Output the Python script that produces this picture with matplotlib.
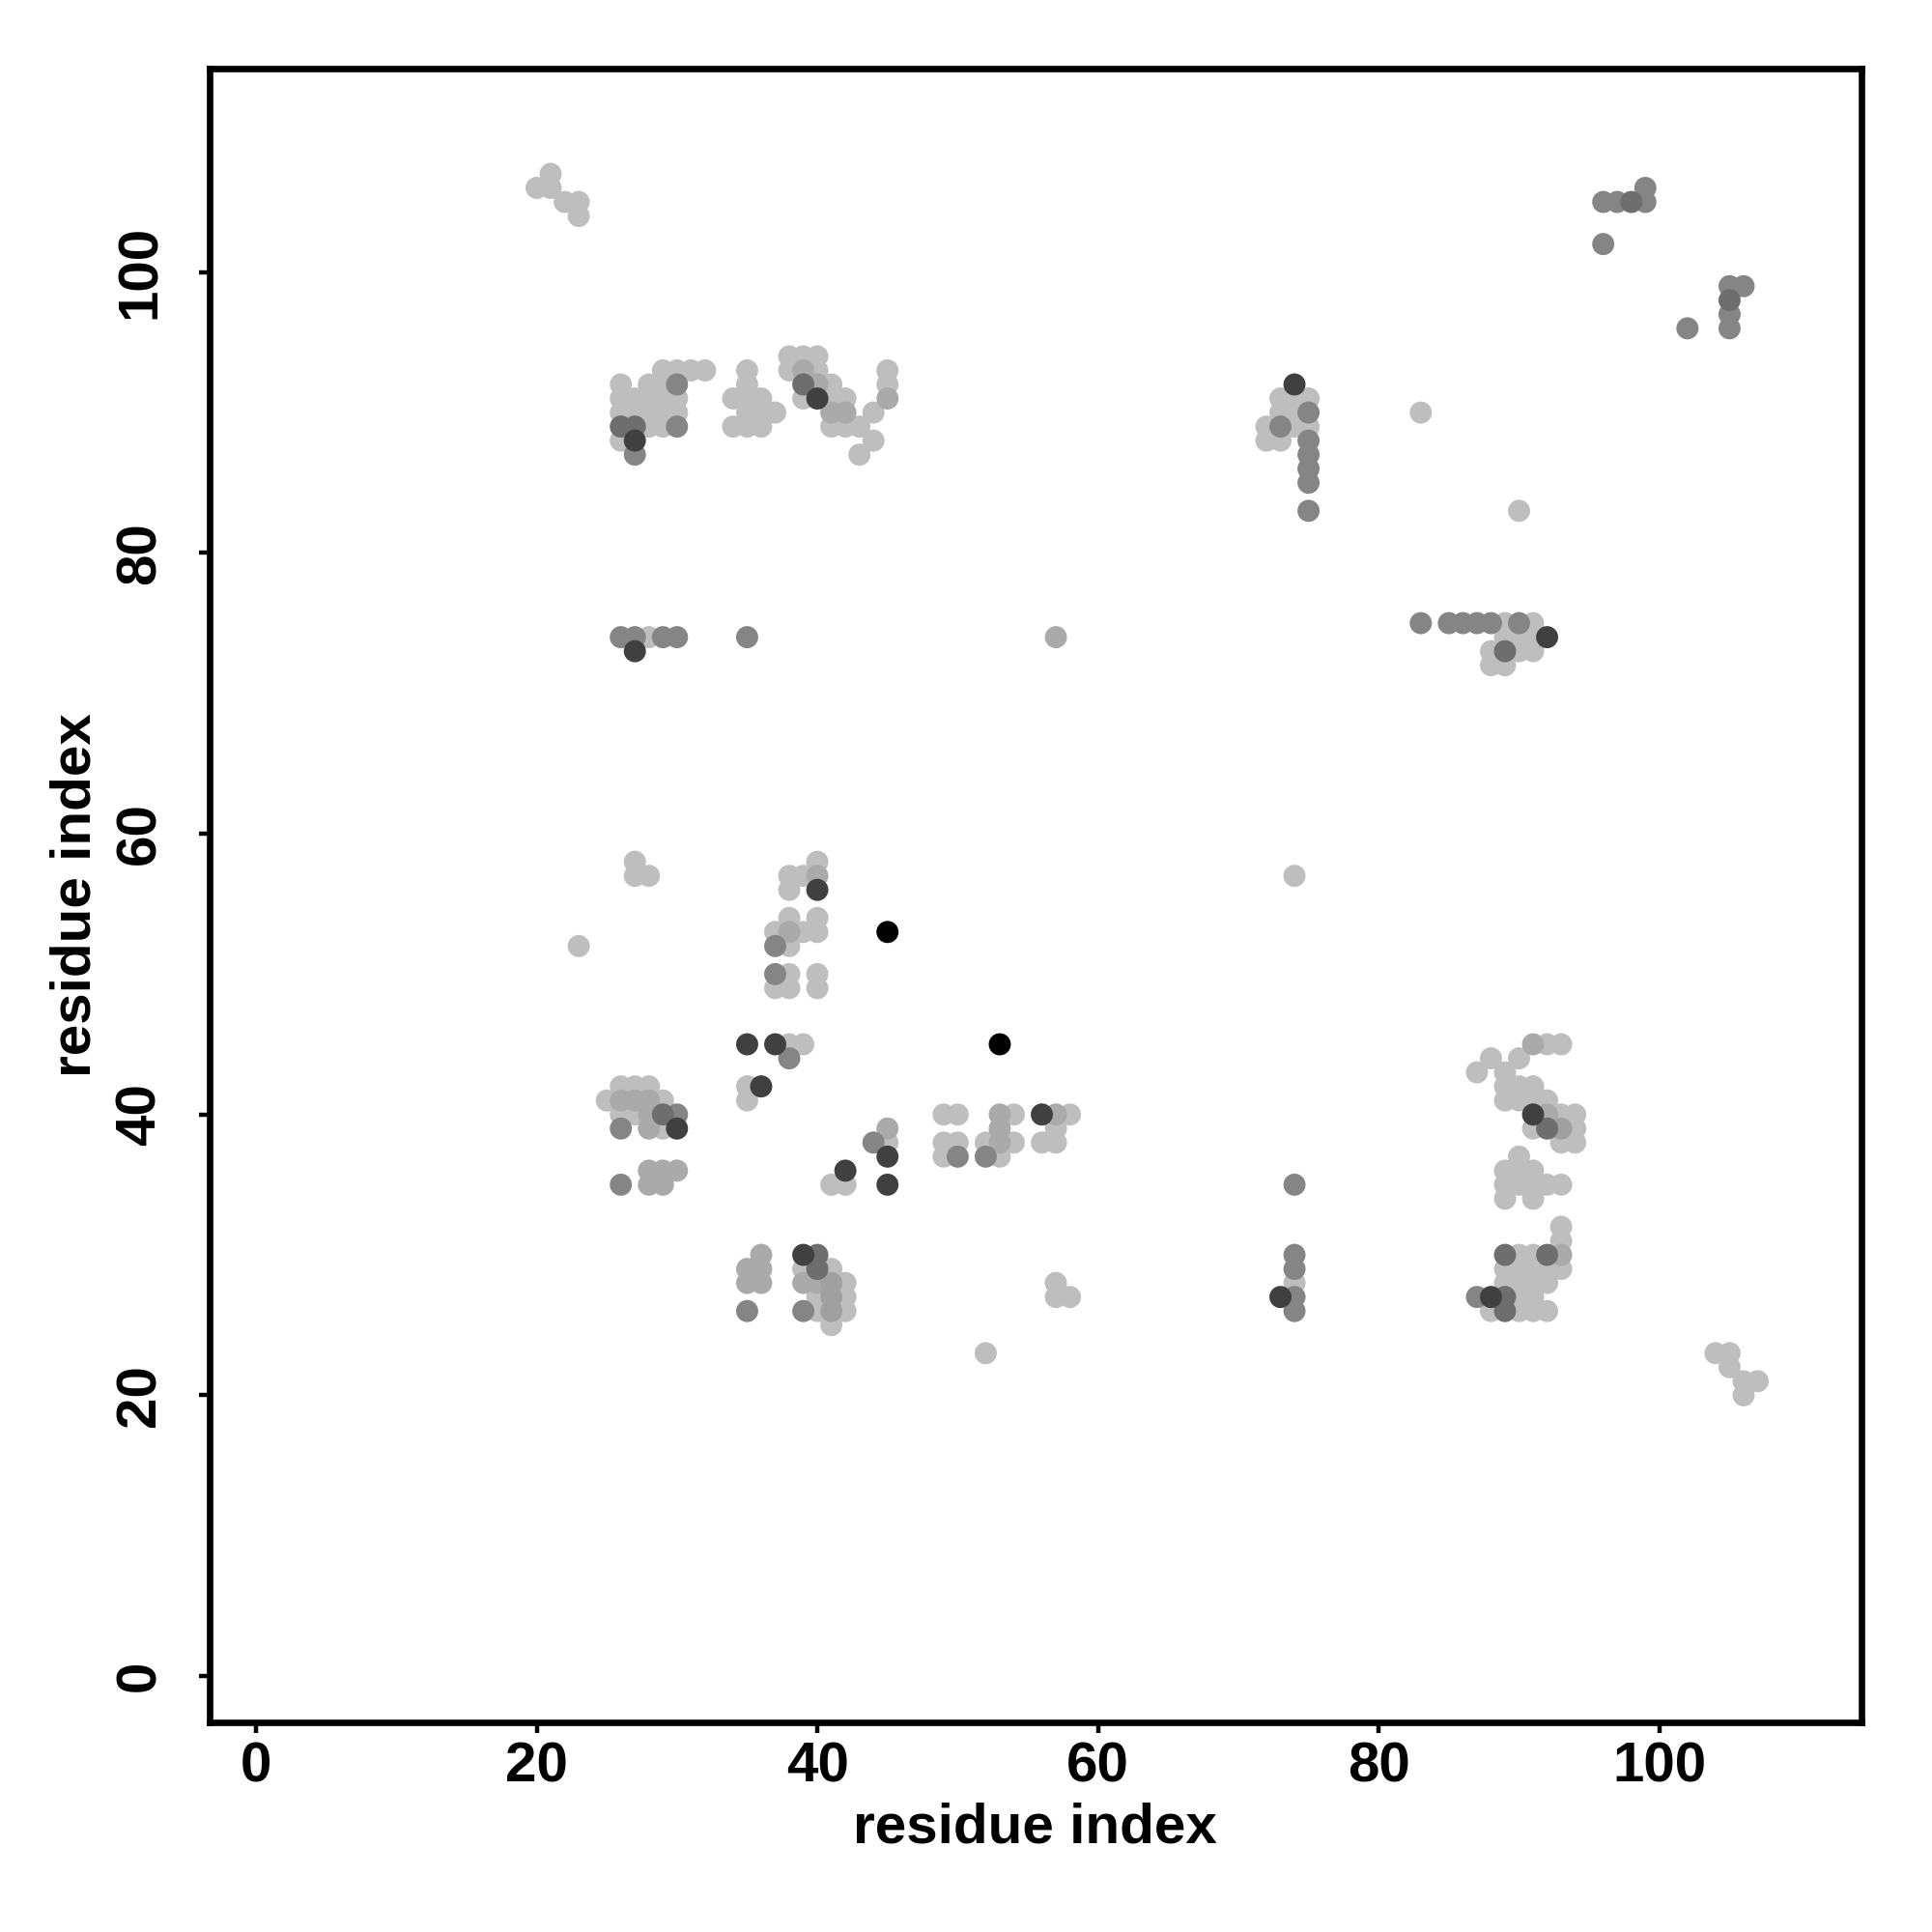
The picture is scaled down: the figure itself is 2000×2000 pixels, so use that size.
import matplotlib
matplotlib.use("Agg")
import matplotlib.pyplot as plt
import numpy as np

plt.rcParams["font.family"] = ["Liberation Sans", "DejaVu Sans"]

# grey code -> colour (L light ... K black)
SHADES = {"L": "#bebebe", "l": "#aaaaaa", "a": "#a0a0a0", "M": "#858585",
          "m": "#6e6e6e", "D": "#404040", "K": "#000000"}

# contacts: (residue i, residue j, grey code), one list per block
top_left = [(20, 106, "L"), (21, 107, "L"), (21, 106, "L"), (22, 105, "L"),
            (23, 105, "L"), (23, 104, "L")]
top_right = [(96, 105, "M"), (97, 105, "M"), (98, 105, "m"), (99, 105, "M"),
             (99, 106, "M"), (96, 102, "M"), (102, 96, "M"), (105, 99, "M"),
             (106, 99, "M"), (105, 98, "m"), (105, 97, "M"), (105, 96, "M")]
block_90 = [(38, 94, "L"), (39, 94, "L"), (40, 94, "L"),
            (29, 93, "L"), (30, 93, "L"), (31, 93, "L"), (32, 93, "L"), (35, 93, "L"),
            (38, 93, "L"), (39, 93, "l"), (40, 93, "L"), (45, 93, "L"),
            (26, 92, "L"), (28, 92, "L"), (29, 92, "L"), (30, 92, "M"), (35, 92, "L"),
            (39, 92, "m"), (40, 92, "l"), (41, 92, "L"), (45, 92, "L"),
            (26, 91, "L"), (27, 91, "L"), (28, 91, "L"), (29, 91, "L"), (30, 91, "L"),
            (34, 91, "L"), (35, 91, "L"), (36, 91, "L"), (39, 91, "L"), (40, 91, "D"),
            (41, 91, "L"), (42, 91, "L"), (45, 91, "l"),
            (26, 90, "L"), (27, 90, "L"), (28, 90, "L"), (29, 90, "L"), (30, 90, "L"),
            (35, 90, "L"), (36, 90, "L"), (37, 90, "L"), (41, 90, "l"), (42, 90, "l"),
            (44, 90, "L"),
            (26, 89, "m"), (27, 89, "m"), (28, 89, "L"), (29, 89, "L"), (30, 89, "M"),
            (34, 89, "L"), (35, 89, "L"), (36, 89, "L"), (41, 89, "L"), (42, 89, "L"),
            (43, 89, "L"),
            (26, 88, "L"), (27, 88, "D"), (44, 88, "L"), (27, 87, "M"), (43, 87, "L")]
block_74_90 = [(74, 92, "D"), (73, 91, "L"), (74, 91, "L"), (75, 91, "L"),
               (73, 90, "L"), (74, 90, "L"), (75, 90, "M"),
               (72, 89, "L"), (73, 89, "M"), (74, 89, "L"), (75, 89, "L"),
               (72, 88, "L"), (73, 88, "L"), (75, 88, "M"), (75, 87, "M"),
               (75, 86, "M"), (75, 85, "M"), (75, 83, "M"), (83, 90, "L"), (90, 83, "L")]
row_74 = [(26, 74, "M"), (27, 74, "M"), (28, 74, "L"), (29, 74, "M"), (30, 74, "M"),
          (27, 73, "D"), (35, 74, "M"), (57, 74, "l"),
          (83, 75, "M"), (85, 75, "M"), (86, 75, "M"), (87, 75, "M"), (88, 75, "M"),
          (89, 75, "L"), (90, 75, "M"), (91, 75, "L"),
          (89, 74, "L"), (90, 74, "L"), (91, 74, "L"), (92, 74, "D"),
          (88, 73, "L"), (89, 73, "m"), (90, 73, "L"), (91, 73, "L"),
          (88, 72, "L"), (89, 72, "L")]
block_53 = [(27, 58, "L"), (27, 57, "L"), (28, 57, "L"), (23, 52, "L"),
            (40, 58, "L"), (38, 57, "L"), (39, 57, "L"), (40, 57, "l"),
            (38, 56, "L"), (40, 56, "D"), (38, 54, "L"), (40, 54, "L"),
            (37, 53, "L"), (38, 53, "l"), (39, 53, "L"), (40, 53, "L"),
            (37, 52, "M"), (38, 52, "L"), (37, 50, "M"), (38, 50, "L"), (40, 50, "L"),
            (37, 49, "L"), (38, 49, "L"), (40, 49, "L"), (45, 53, "K"), (74, 57, "L")]
block_40_left = [(35, 45, "D"), (37, 45, "D"), (38, 45, "L"), (39, 45, "L"),
                 (53, 45, "K"), (38, 44, "M"), (35, 42, "L"), (36, 42, "D"), (35, 41, "L"),
                 (26, 42, "L"), (27, 42, "L"), (28, 42, "L"),
                 (25, 41, "L"), (26, 41, "l"), (27, 41, "l"), (28, 41, "l"), (29, 41, "L"),
                 (26, 40, "L"), (27, 40, "L"), (28, 40, "l"), (29, 40, "m"), (30, 40, "M"),
                 (26, 39, "M"), (28, 39, "l"), (29, 39, "L"), (30, 39, "D"),
                 (28, 36, "l"), (29, 36, "l"), (30, 36, "l"),
                 (26, 35, "M"), (28, 35, "l"), (29, 35, "l"),
                 (45, 39, "l"), (44, 38, "M"), (45, 38, "L"), (45, 37, "D"),
                 (42, 36, "D"), (41, 35, "L"), (42, 35, "L"), (45, 35, "D")]
block_40_mid = [(49, 40, "L"), (50, 40, "L"), (53, 40, "l"), (54, 40, "L"),
                (56, 40, "D"), (57, 40, "l"), (58, 40, "L"), (53, 39, "l"), (57, 39, "L"),
                (49, 38, "L"), (50, 38, "L"), (52, 38, "L"), (53, 38, "l"), (54, 38, "L"),
                (56, 38, "L"), (57, 38, "L"),
                (49, 37, "L"), (50, 37, "M"), (52, 37, "M"), (53, 37, "L")]
block_40_right = [(74, 35, "M"),
                  (91, 45, "l"), (92, 45, "L"), (93, 45, "L"), (88, 44, "L"), (90, 44, "L"),
                  (87, 43, "L"), (89, 43, "L"), (89, 42, "L"), (90, 42, "L"), (91, 42, "L"),
                  (89, 41, "L"), (90, 41, "L"), (91, 41, "L"), (92, 41, "L"),
                  (91, 40, "D"), (92, 40, "l"), (93, 40, "L"), (94, 40, "L"),
                  (91, 39, "L"), (92, 39, "m"), (93, 39, "a"), (94, 39, "L"),
                  (93, 38, "L"), (94, 38, "L"), (90, 37, "L"),
                  (89, 36, "L"), (90, 36, "L"), (91, 36, "L"),
                  (89, 35, "L"), (90, 35, "L"), (91, 35, "L"), (92, 35, "L"), (93, 35, "L"),
                  (89, 34, "L"), (91, 34, "L"), (93, 32, "L")]
block_28_left = [(36, 30, "l"), (39, 30, "D"), (40, 30, "m"),
                 (35, 29, "l"), (36, 29, "l"), (39, 29, "L"), (40, 29, "m"), (41, 29, "L"),
                 (35, 28, "l"), (36, 28, "l"), (39, 28, "l"), (40, 28, "l"), (41, 28, "a"),
                 (42, 28, "L"), (40, 27, "L"), (41, 27, "a"), (42, 27, "L"),
                 (35, 26, "M"), (39, 26, "M"), (40, 26, "L"), (41, 26, "a"), (42, 26, "L"),
                 (41, 25, "L"), (57, 28, "L"), (57, 27, "L"), (58, 27, "L"), (52, 23, "L")]
block_28_right = [(74, 30, "M"), (74, 29, "M"), (74, 28, "L"), (74, 27, "M"),
                  (74, 26, "M"), (73, 27, "D"), (93, 31, "L"),
                  (89, 30, "m"), (90, 30, "L"), (91, 30, "L"), (92, 30, "m"), (93, 30, "l"),
                  (89, 29, "L"), (90, 29, "L"), (91, 29, "L"), (92, 29, "L"), (93, 29, "L"),
                  (89, 28, "L"), (90, 28, "L"), (91, 28, "L"), (92, 28, "L"),
                  (87, 27, "M"), (88, 27, "D"), (89, 27, "m"), (90, 27, "L"), (91, 27, "L"),
                  (88, 26, "L"), (89, 26, "m"), (90, 26, "L"), (91, 26, "L"), (92, 26, "L")]
bottom_right = [(104, 23, "L"), (105, 23, "L"), (105, 22, "L"), (106, 21, "L"),
                (107, 21, "L"), (106, 20, "L")]

contacts = (top_left + top_right + block_90 + block_74_90 + row_74 + block_53
            + block_40_left + block_40_mid + block_40_right + block_28_left
            + block_28_right + bottom_right)
# light first so darker dots end up on top
contacts.sort(key=lambda c: -int(SHADES[c[2]][1:3], 16))
xs = [c[0] for c in contacts]
ys = [c[1] for c in contacts]
cs = [SHADES[c[2]] for c in contacts]

fig = plt.figure(figsize=(10, 10), dpi=200)
ax = fig.add_axes([0.1085, 0.1085, 0.855, 0.856])
ax.scatter(xs, ys, c=cs, s=68, linewidths=0, zorder=3)
ax.set_xlim(-3.3, 114.4)
ax.set_ylim(-3.3, 114.5)
ax.set_xticks(range(0, 101, 20))
ax.set_yticks(range(0, 101, 20))
for s in ax.spines.values():
    s.set_linewidth(2.4)
ax.tick_params(axis="both", length=4, width=1.6, labelsize=21)
ax.tick_params(axis="x", pad=3)
ax.tick_params(axis="y", pad=12)
for t in ax.get_xticklabels():
    t.set_fontweight("bold")
for t in ax.get_yticklabels():
    t.set_fontweight("bold"); t.set_rotation(90); t.set_va("center")
fig.text(0.5357, 1 - 1892 / 2000, "residue index", ha="center", va="center",
         fontsize=21, fontweight="bold")
fig.text(79 / 2000, 0.5365, "residue index", ha="center", va="center",
         fontsize=21, fontweight="bold", rotation=90)
fig.savefig("out.png", dpi=200)
